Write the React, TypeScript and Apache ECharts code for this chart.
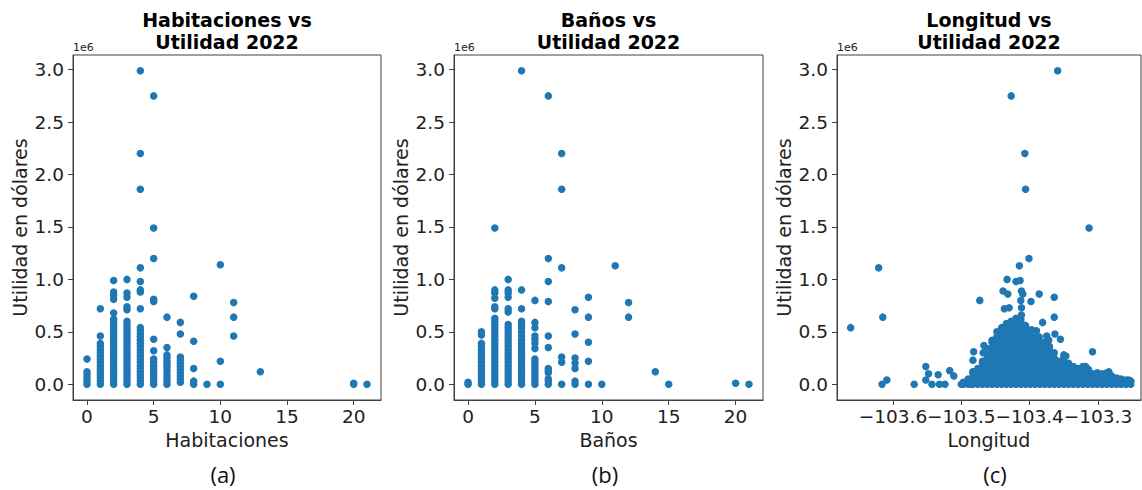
import React, { useEffect, useRef } from "react";
import * as echarts from "echarts";

// ---- Panel (a): Habitaciones vs Utilidad (values in millions of dollars) ----
const roomCats = [0, 1, 2, 3, 4, 5, 6, 7, 8, 9, 10, 11, 13, 20, 21];
const roomVals = [
  [0, 0.03, 0.06, 0.09, 0.12, 0.24],
  [0, 0.03, 0.06, 0.09, 0.12, 0.15, 0.18, 0.21, 0.24, 0.27, 0.3, 0.33, 0.36, 0.39, 0.46, 0.72],
  [0, 0.03, 0.06, 0.09, 0.12, 0.15, 0.18, 0.21, 0.24, 0.27, 0.3, 0.33, 0.36, 0.39, 0.42, 0.45, 0.48, 0.51, 0.54, 0.57, 0.6, 0.62, 0.68, 0.81, 0.85, 0.88, 0.99],
  [0, 0.03, 0.06, 0.09, 0.12, 0.15, 0.18, 0.21, 0.24, 0.27, 0.3, 0.33, 0.36, 0.39, 0.42, 0.45, 0.48, 0.51, 0.54, 0.57, 0.6, 0.71, 0.74, 0.83, 0.87, 1.0],
  [0, 0.03, 0.06, 0.09, 0.12, 0.15, 0.18, 0.21, 0.24, 0.27, 0.3, 0.33, 0.36, 0.39, 0.42, 0.45, 0.48, 0.51, 0.54, 0.72, 0.88, 0.9, 0.98, 1.11, 1.86, 2.2, 2.99],
  [0, 0.03, 0.06, 0.09, 0.12, 0.15, 0.18, 0.21, 0.24, 0.32, 0.43, 0.79, 0.81, 1.2, 1.49, 2.75],
  [0, 0.03, 0.06, 0.09, 0.13, 0.16, 0.19, 0.22, 0.25, 0.28, 0.35, 0.64],
  [0.02, 0.05, 0.08, 0.11, 0.14, 0.17, 0.2, 0.23, 0.26, 0.48, 0.59],
  [0, 0.03, 0.15, 0.41, 0.84],
  [0],
  [0, 0.22, 1.14],
  [0.46, 0.64, 0.78],
  [0.12],
  [0, 0.01],
  [0],
];

// ---- Panel (b): Baños vs Utilidad ----
const bathCats = [0, 1, 2, 3, 4, 5, 6, 7, 8, 9, 10, 11, 12, 14, 15, 20, 21];
const bathVals = [
  [0, 0.02],
  [0, 0.03, 0.06, 0.09, 0.12, 0.15, 0.18, 0.21, 0.24, 0.27, 0.3, 0.33, 0.36, 0.39, 0.47, 0.5],
  [0, 0.03, 0.06, 0.09, 0.12, 0.15, 0.18, 0.21, 0.24, 0.27, 0.3, 0.33, 0.36, 0.39, 0.42, 0.45, 0.48, 0.51, 0.54, 0.57, 0.6, 0.63, 0.72, 0.74, 0.82, 0.87, 0.9, 1.49],
  [0, 0.03, 0.06, 0.09, 0.12, 0.15, 0.18, 0.21, 0.24, 0.27, 0.3, 0.33, 0.36, 0.39, 0.42, 0.45, 0.48, 0.51, 0.54, 0.57, 0.69, 0.72, 0.83, 0.87, 0.9, 1.0],
  [0, 0.03, 0.06, 0.09, 0.12, 0.15, 0.18, 0.21, 0.24, 0.27, 0.3, 0.33, 0.36, 0.39, 0.42, 0.46, 0.5, 0.54, 0.57, 0.6, 0.72, 0.9, 2.99],
  [0, 0.03, 0.06, 0.09, 0.12, 0.15, 0.18, 0.21, 0.24, 0.34, 0.39, 0.43, 0.46, 0.54, 0.59, 0.8],
  [0, 0.03, 0.05, 0.11, 0.13, 0.15, 0.35, 0.46, 0.79, 0.98, 1.2, 2.75],
  [0, 0.21, 0.26, 1.11, 1.86, 2.2],
  [0, 0.03, 0.15, 0.2, 0.25, 0.48, 0.71],
  [0, 0.22, 0.4, 0.64, 0.83],
  [0],
  [1.13],
  [0.64, 0.78],
  [0.12],
  [0],
  [0.01],
  [0],
];

// ---- Panel (c): Longitud vs Utilidad ----
const lonCols = [
  -103.497, -103.49, -103.483, -103.476, -103.469, -103.462, -103.455, -103.448, -103.441,
  -103.434, -103.427, -103.42, -103.413, -103.406, -103.399, -103.392, -103.385, -103.378,
  -103.371, -103.364, -103.357, -103.35, -103.343, -103.336, -103.329, -103.322, -103.315,
  -103.308, -103.301, -103.294, -103.287, -103.28, -103.273, -103.266, -103.259, -103.252,
];
const lonColVals = [
  [0, 0.02],
  [0, 0.05],
  [0, 0.05, 0.1, 0.12],
  [0, 0.05, 0.1, 0.15],
  [0, 0.05, 0.1, 0.15, 0.2, 0.22],
  [0, 0.05, 0.1, 0.15, 0.2, 0.25, 0.28],
  [0, 0.05, 0.1, 0.15, 0.2, 0.25, 0.3, 0.35, 0.4, 0.42],
  [0, 0.05, 0.1, 0.15, 0.2, 0.25, 0.3, 0.35, 0.4, 0.45, 0.5],
  [0, 0.05, 0.1, 0.15, 0.2, 0.25, 0.3, 0.35, 0.4, 0.45, 0.5, 0.54],
  [0, 0.05, 0.1, 0.15, 0.2, 0.25, 0.3, 0.35, 0.4, 0.45, 0.5, 0.55, 0.58],
  [0, 0.05, 0.1, 0.15, 0.2, 0.25, 0.3, 0.35, 0.4, 0.45, 0.5, 0.55, 0.6],
  [0, 0.05, 0.1, 0.15, 0.2, 0.25, 0.3, 0.35, 0.4, 0.45, 0.5, 0.55, 0.6, 0.63],
  [0, 0.05, 0.1, 0.15, 0.2, 0.25, 0.3, 0.35, 0.4, 0.45, 0.5, 0.55, 0.6, 0.62],
  [0, 0.05, 0.1, 0.15, 0.2, 0.25, 0.3, 0.35, 0.4, 0.45, 0.5, 0.55, 0.56],
  [0, 0.05, 0.1, 0.15, 0.2, 0.25, 0.3, 0.35, 0.4, 0.45, 0.5],
  [0, 0.05, 0.1, 0.15, 0.2, 0.25, 0.3, 0.35, 0.4, 0.45],
  [0, 0.05, 0.1, 0.15, 0.2, 0.25, 0.3, 0.35, 0.4],
  [0, 0.05, 0.1, 0.15, 0.2, 0.25, 0.3, 0.35, 0.38],
  [0, 0.05, 0.1, 0.15, 0.2, 0.25, 0.3, 0.35, 0.36],
  [0, 0.05, 0.1, 0.15, 0.2, 0.25, 0.3],
  [0, 0.05, 0.1, 0.15, 0.2, 0.22],
  [0, 0.05, 0.1, 0.15, 0.2, 0.25, 0.28],
  [0, 0.05, 0.1, 0.15, 0.2],
  [0, 0.05, 0.1, 0.15, 0.17],
  [0, 0.05, 0.1, 0.15],
  [0, 0.05, 0.1, 0.15, 0.17],
  [0, 0.05, 0.1, 0.14],
  [0, 0.05, 0.1],
  [0, 0.05, 0.1, 0.11],
  [0, 0.05, 0.1],
  [0, 0.05, 0.1, 0.11],
  [0, 0.05, 0.08],
  [0, 0.05, 0.06],
  [0, 0.05],
  [0, 0.04],
  [0, 0.03],
];
const lonOutliers = [
  [-103.662, 0.54], [-103.621, 1.11], [-103.615, 0.64], [-103.616, 0.0], [-103.609, 0.04],
  [-103.569, 0.0], [-103.552, 0.17], [-103.548, 0.1], [-103.552, 0.04], [-103.543, 0.0],
  [-103.534, 0.09], [-103.532, 0.0], [-103.524, 0.0], [-103.517, 0.13], [-103.511, 0.08],
  [-103.5, 0.0], [-103.485, 0.0], [-103.483, 0.12], [-103.483, 0.23], [-103.482, 0.31],
  [-103.473, 0.8], [-103.467, 0.37], [-103.468, 0.3], [-103.463, 0.34], [-103.439, 0.89],
  [-103.432, 0.86], [-103.433, 1.0], [-103.437, 0.72], [-103.43, 0.73], [-103.427, 2.75],
  [-103.42, 0.98], [-103.414, 0.99], [-103.415, 1.13], [-103.407, 2.2], [-103.406, 1.86],
  [-103.401, 1.2], [-103.412, 0.89], [-103.41, 0.86], [-103.413, 0.8], [-103.398, 0.79],
  [-103.412, 0.73], [-103.412, 0.66], [-103.386, 0.86], [-103.381, 0.59], [-103.397, 0.52],
  [-103.39, 0.51], [-103.375, 0.46], [-103.372, 0.42], [-103.364, 0.83], [-103.364, 0.64],
  [-103.363, 0.48], [-103.355, 0.43], [-103.359, 2.99], [-103.347, 0.27], [-103.313, 1.49],
  [-103.308, 0.31], [-103.318, 0.17], [-103.314, 0.14], [-103.284, 0.12], [-103.27, 0.05],
  [-103.255, 0.04], [-103.252, 0.03], [-103.386, 0.45], [-103.379, 0.4],
];

const yTicks = [0, 0.5, 1.0, 1.5, 2.0, 2.5, 3.0];
const countTicks = [0, 5, 10, 15, 20];
const lonTicks = [-103.6, -103.5, -103.4, -103.3];
const titles = ["Habitaciones vs\nUtilidad 2022", "Baños vs\nUtilidad 2022", "Longitud vs\nUtilidad 2022"];
const xNames = ["Habitaciones", "Baños", "Longitud"];
const panelTags = ["(a)", "(b)", "(c)"];

const BLUE = "#1f77b4";
const SPINE = "#404040";
const FONT = "DejaVu Sans";

export default function App() {
  const ref = useRef<HTMLDivElement>(null);
  useEffect(() => {
    document.body.style.margin = "0";
    if (!ref.current) return;
    const chart = echarts.init(ref.current, undefined, { renderer: "svg" });

    const grids = [
      { left: 73, top: 55, width: 308, height: 345 },
      { left: 454, top: 55, width: 309, height: 345 },
      { left: 837, top: 55, width: 304, height: 345 },
    ];
    const tagX = [223, 605, 995];

    const roomData = roomCats.flatMap((x, i) => roomVals[i].map((v) => [x, v]));
    const bathData = bathCats.flatMap((x, i) => bathVals[i].map((v) => [x, v]));
    const lonData = lonCols.flatMap((x, i) => lonColVals[i].map((v) => [x, v])).concat(lonOutliers);

    const xRanges = [
      { min: -1.05, max: 22.05, ticks: countTicks, fmt: (v: number) => String(v) },
      { min: -1.05, max: 22.05, ticks: countTicks, fmt: (v: number) => String(v) },
      { min: -103.682, max: -103.237, ticks: lonTicks, fmt: (v: number) => "\u2212" + Math.abs(v).toFixed(1) },
    ];

    const axisCommon = {
      axisLine: { show: true, onZero: false, lineStyle: { color: SPINE, width: 1 } },
      axisTick: { show: true, length: 5, lineStyle: { color: SPINE, width: 1 } },
      splitLine: { show: false },
    };

    const option: any = {
      animation: false,
      backgroundColor: "#ffffff",
      title: grids.map((g, i) => ({
        text: titles[i],
        left: g.left + g.width / 2,
        top: 9,
        padding: 0,
        textAlign: "center",
        textStyle: { fontFamily: FONT, fontSize: 19, fontWeight: "bold", color: "#000", lineHeight: 22 },
      })),
      grid: grids.map((g) => ({ ...g, show: true, borderColor: SPINE, borderWidth: 1, backgroundColor: "transparent" })),
      xAxis: xRanges.map((r, i) => ({
        type: "value",
        gridIndex: i,
        min: r.min,
        max: r.max,
        name: xNames[i],
        nameLocation: "middle",
        nameGap: 30,
        nameTextStyle: { fontFamily: FONT, fontSize: 19, color: "#222" },
        ...axisCommon,
        axisTick: { ...axisCommon.axisTick, customValues: r.ticks },
        axisLabel: {
          customValues: r.ticks,
          formatter: r.fmt,
          fontFamily: FONT,
          fontSize: 18.5,
          color: "#222",
          margin: 7,
        },
      })),
      yAxis: grids.map((_, i) => ({
        type: "value",
        gridIndex: i,
        min: -0.15,
        max: 3.14,
        name: "Utilidad en dólares",
        nameLocation: "middle",
        nameGap: 44,
        nameRotate: 90,
        nameTextStyle: { fontFamily: FONT, fontSize: 19, color: "#222" },
        ...axisCommon,
        axisTick: { ...axisCommon.axisTick, customValues: yTicks },
        axisLabel: {
          customValues: yTicks,
          formatter: (v: number) => v.toFixed(1),
          fontFamily: FONT,
          fontSize: 18.5,
          color: "#222",
          margin: 9,
        },
      })),
      series: [roomData, bathData, lonData].map((d, i) => ({
        type: "scatter",
        xAxisIndex: i,
        yAxisIndex: i,
        data: d,
        symbol: "circle",
        symbolSize: 7.5,
        itemStyle: { color: BLUE, opacity: 1 },
        silent: true,
      })),
      graphic: [
        ...grids.map((g) => ({
          type: "text",
          left: g.left,
          top: 42,
          style: { text: "1e6", fontFamily: FONT, fontSize: 11, fill: "#222" },
        })),
        ...tagX.map((x, i) => ({
          type: "text",
          x,
          y: 474,
          style: {
            text: panelTags[i],
            fontFamily: "Open Sans",
            fontSize: 22,
            lineHeight: 22,
            fill: "#111",
            align: "center",
            verticalAlign: "middle",
          },
        })),
      ],
    };

    chart.setOption(option);
    return () => chart.dispose();
  }, []);

  return <div ref={ref} style={{ width: 1142, height: 490 }} />;
}
